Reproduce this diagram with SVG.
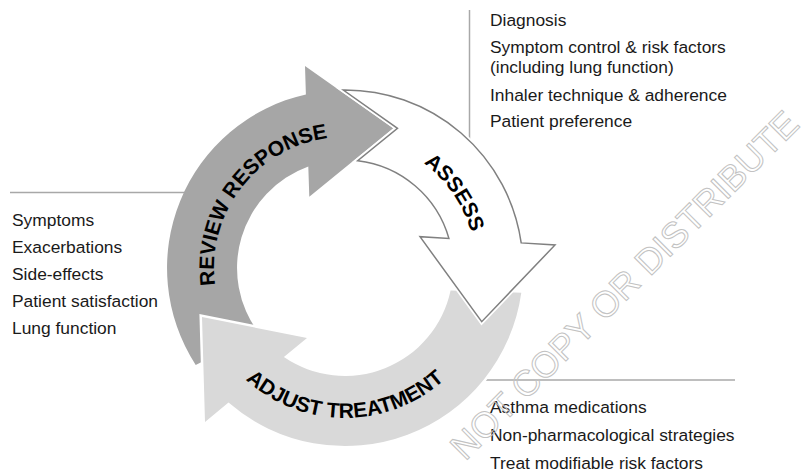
<svg xmlns="http://www.w3.org/2000/svg" width="809" height="473" viewBox="0 0 809 473">
<style>
.list{font-family:"Liberation Sans",Arial,sans-serif;font-size:17.4px;fill:#1a1a1a}
.lbl{font-family:"Liberation Sans",Arial,sans-serif;font-size:21px;font-weight:bold;fill:#000}
.conn{stroke:#a8a8a8;stroke-width:1.5;fill:none}
.wm{font-family:"Liberation Sans",Arial,sans-serif;font-size:36px;fill:none;stroke:#c2c2c2;stroke-width:1}
</style>
<defs>
<path id="arcReview" d="M221.9,312.8 A131,131 0 0 1 356.4,137.5"/>
<path id="arcAssess" d="M367.7,139 A131,131 0 0 1 473.6,293"/>
<path id="arcAdjust" d="M216,342.5 A148,148 0 0 0 474,342.5"/>
</defs>
<rect width="809" height="473" fill="#fff"/>
<g id="connectors">
<line class="conn" x1="10" y1="192.5" x2="192" y2="192.5"/>
<line class="conn" x1="469.5" y1="10" x2="469.5" y2="148"/>
<line class="conn" x1="478" y1="380" x2="735" y2="380"/>
</g>
<g id="review">
<path d="M195.7,364.9 A178,178 0 0 1 305.9,94.4 L305,66 L393.3,128.3 L309.3,196.7 L308.3,166.5 A108,108 0 0 0 258.75,333 Z" fill="#a6a6a6"/>
<text class="lbl"><textPath href="#arcReview" startOffset="50%" text-anchor="middle">REVIEW RESPONSE</textPath></text>
</g>
<g id="adjust">
<path d="M521.3,292.8 A178,178 0 0 1 228.5,402.6 L205,422 L202,317 L307,338 L283.9,357 A108,108 0 0 0 450.6,290.5 Z" fill="#d9d9d9" stroke="#fff" stroke-width="5" stroke-linejoin="miter" paint-order="stroke fill"/>
<text class="lbl"><textPath href="#arcAdjust" startOffset="50%" text-anchor="middle">ADJUST TREATMENT</textPath></text>
</g>
<g id="assess">
<path d="M343.3,90 A178,178 0 0 1 521.2,242.9 L555,245 L481.7,321.7 L420,236.7 L448.9,238.4 A108,108 0 0 0 357.7,160.7 L397.5,128.3 Z" fill="#fff" stroke="#fff" stroke-width="5"/>
<path d="M343.3,90 A178,178 0 0 1 521.2,242.9 L555,245 L481.7,321.7 L420,236.7 L448.9,238.4 A108,108 0 0 0 357.7,160.7 L397.5,128.3 Z" fill="#fff" stroke="#808080" stroke-width="1.5"/>
<text class="lbl"><textPath href="#arcAssess" startOffset="50%" text-anchor="middle">ASSESS</textPath></text>
</g>
<g id="assess-list">
<text class="list" x="490" y="26">Diagnosis</text>
<text class="list" x="490" y="52.5">Symptom control &amp; risk factors</text>
<text class="list" x="490" y="73">(including lung function)</text>
<text class="list" x="490" y="100.5">Inhaler technique &amp; adherence</text>
<text class="list" x="490" y="127">Patient preference</text>
</g>
<g id="review-list">
<text class="list" x="12" y="226">Symptoms</text>
<text class="list" x="12" y="253">Exacerbations</text>
<text class="list" x="12" y="280">Side-effects</text>
<text class="list" x="12" y="307">Patient satisfaction</text>
<text class="list" x="12" y="334">Lung function</text>
</g>
<g id="adjust-list">
<text class="list" x="490" y="413">Asthma medications</text>
<text class="list" x="490" y="441">Non-pharmacological strategies</text>
<text class="list" x="490" y="469">Treat modifiable risk factors</text>
</g>
<g id="watermark">
<text class="wm" x="801" y="126" text-anchor="end" transform="rotate(-45 801 126)">NOT COPY OR DISTRIBUTE</text>
</g>
</svg>
